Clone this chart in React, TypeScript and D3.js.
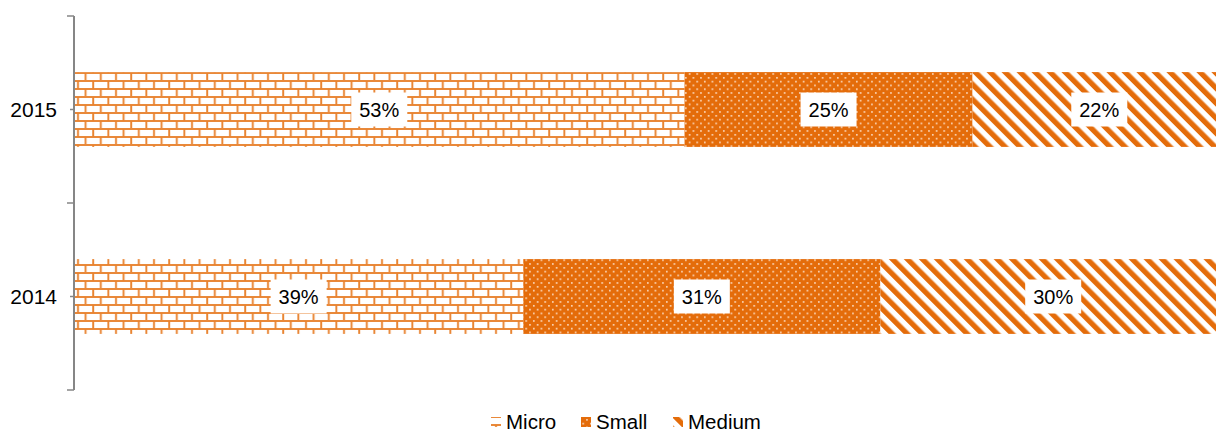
import React from "react";
import * as d3 from "d3";

const years = ["2015", "2014"];
const seriesNames = ["Micro", "Small", "Medium"];
const micro = [53, 39];
const small = [25, 31];
const medium = [22, 30];

const ORANGE = "#E46C0A";
const W = 1216;
const H = 432;
const margin = { left: 74, top: 16, bottom: 42 };
const plotW = 1152;

export default function App() {
  const x = d3.scaleLinear().domain([0, 100]).range([margin.left, margin.left + plotW]);
  const y = d3.scaleBand().domain(years).range([margin.top, H - margin.bottom]).paddingInner(0.6).paddingOuter(0.3);
  const yb = d3.scaleBand().domain(years).range([margin.top, H - margin.bottom]);
  const seriesVals = [micro, small, medium];
  const fills = ["url(#brick)", "url(#dots)", "url(#diag)"];
  const stacked = years.map((yr, i) => {
    let acc = 0;
    return seriesVals.map((s, k) => {
      const x0 = acc;
      acc += s[i];
      return { yr, k, x0, x1: acc, v: s[i] };
    });
  });
  const font = "Liberation Sans, Arial, sans-serif";
  const legendX = [491, 581, 673];
  return (
    <svg width={W} height={H} style={{ position: "absolute", left: 0, top: 0 }}>
      <defs>
        <pattern id="brick" patternUnits="userSpaceOnUse" x={margin.left} y={0} width={15.2} height={16}>
          <rect width={15.2} height={16} fill="#fff" />
          <g stroke={ORANGE} strokeWidth={1.9} opacity={0.85}>
            <line x1={0} x2={15.2} y1={1} y2={1} />
            <line x1={0} x2={15.2} y1={9} y2={9} />
            <line x1={4} x2={4} y1={1} y2={9} />
            <line x1={11.6} x2={11.6} y1={9} y2={17} />
          </g>
        </pattern>
        <pattern id="dots" patternUnits="userSpaceOnUse" width={7.6} height={7.6}>
          <rect width={7.6} height={7.6} fill={ORANGE} />
          <rect x={1} y={1} width={1.6} height={1.6} fill="#fde0c8" />
          <rect x={4.8} y={4.8} width={1.6} height={1.6} fill="#fde0c8" />
        </pattern>
        <pattern id="diag" patternUnits="userSpaceOnUse" width={10.6} height={10.6} patternTransform="rotate(-45)">
          <rect width={10.6} height={10.6} fill="#fff" />
          <rect x={0} y={0} width={5.3} height={10.6} fill={ORANGE} />
        </pattern>
      </defs>
      {stacked.map((row) =>
        row.map((d) => (
          <rect
            key={d.yr + d.k}
            x={x(d.x0)}
            y={y(d.yr)}
            width={x(d.x1) - x(d.x0)}
            height={y.bandwidth()}
            fill={fills[d.k]}
          />
        ))
      )}
      {stacked.map((row) =>
        row.map((d) => {
          const cx = (x(d.x0) + x(d.x1)) / 2;
          const cy = (y(d.yr) as number) + y.bandwidth() / 2;
          return (
            <g key={"l" + d.yr + d.k}>
              <rect x={cx - 28} y={cy - 17} width={56} height={34} fill="#fff" />
              <text x={cx} y={cy + 7} textAnchor="middle" fontFamily={font} fontSize={20} fill="#000">
                {d.v}%
              </text>
            </g>
          );
        })
      )}
      <line x1={margin.left} x2={margin.left} y1={margin.top} y2={H - margin.bottom} stroke="#868686" strokeWidth={2} />
      {[...years.map((yr) => yb(yr) as number), H - margin.bottom].map((v, i) => (
        <line key={"t" + i} x1={margin.left - 7} x2={margin.left} y1={v} y2={v} stroke="#868686" strokeWidth={1.5} />
      ))}
      {years.map((yr) => {
        const cy = (yb(yr) as number) + yb.bandwidth() / 2;
        return (
          <g key={"yl" + yr}>
            <line x1={margin.left - 4} x2={margin.left} y1={cy} y2={cy} stroke="#868686" strokeWidth={1.5} />
            <text x={57} y={cy + 7.5} textAnchor="end" fontFamily={font} fontSize={21} fill="#000">
              {yr}
            </text>
          </g>
        );
      })}
      {seriesNames.map((n, i) => (
        <g key={"lg" + n}>
          <rect x={legendX[i]} y={417} width={10} height={10} fill={fills[i]} />
          <text x={legendX[i] + 15} y={428.5} fontFamily={font} fontSize={20.5} fill="#000">
            {n}
          </text>
        </g>
      ))}
    </svg>
  );
}
